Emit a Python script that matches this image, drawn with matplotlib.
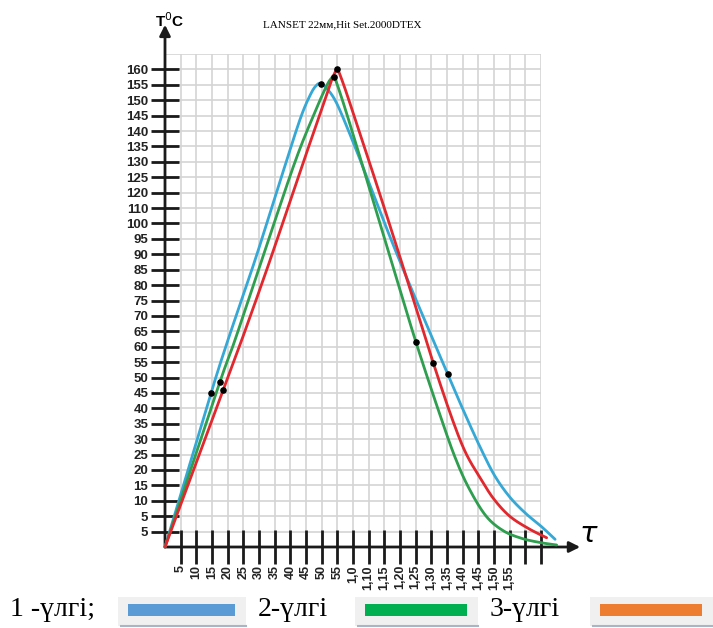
import numpy as np
import matplotlib.pyplot as plt
from matplotlib.patches import Rectangle

# tick labels (x: one per grid column, y: one per grid row, bottom up)
x_labels = ['5', '10', '15', '20', '25', '30', '35', '40', '45', '50', '55', '1,0',
            '1,10', '1,15', '1,20', '1,25', '1,30', '1,35', '1,40', '1,45', '1,50', '1,55', '', '']
y_labels = ['5', '5', '10', '15', '20', '25', '30', '35', '40', '45', '50', '55', '60', '65',
            '70', '75', '80', '85', '90', '95', '100', '110', '120', '125', '130', '135', '140',
            '145', '150', '155', '160']

# curves, in grid cells from the origin
blue_x = [0, 1.0, 2.94, 4.02, 5.74, 7.3, 8.6, 9.3, 9.7, 9.94, 10.3, 10.96, 12.0, 12.87, 14.87,
          18.04, 19.25, 20.2, 21.06, 22.0, 23.0, 24.0, 24.9]
blue_y = [0, 3.4, 10.0, 13.44, 18.6, 23.6, 27.7, 29.4, 30.0, 30.06, 29.8, 28.8, 26.3, 24.05, 18.85,
          11.23, 8.4, 6.3, 4.6, 3.25, 2.2, 1.35, 0.5]
green_x = [0, 1.0, 3.51, 4.47, 6.17, 8.3, 9.6, 10.3, 10.6, 10.78, 11.1, 12.0, 14.36, 16.02,
           17.66, 18.6, 19.46, 20.5, 21.6, 22.8, 24.0, 25.0]
green_y = [0, 3.05, 10.73, 13.44, 18.6, 25.0, 28.3, 29.9, 30.4, 30.5, 29.7, 26.8, 18.85, 13.29,
           8.25, 5.6, 3.7, 2.0, 1.05, 0.55, 0.28, 0.13]
red_x = [0, 1.0, 3.72, 4.9, 6.7, 8.6, 10.0, 10.6, 10.85, 11.0, 11.3, 12.0, 14.0, 16.0, 17.13,
         18.3, 19.2, 20.2, 21.0, 22.0, 23.2, 24.36]
red_y = [0, 2.75, 10.2, 13.44, 18.6, 24.3, 28.4, 30.2, 30.8, 31.0, 30.3, 28.2, 22.0, 15.6, 11.93,
         8.4, 6.1, 4.35, 3.1, 2.0, 1.2, 0.6]

# black dots on each curve
blue_dots_x = [2.94, 9.94, 18.04]
blue_dots_y = [10.0, 30.06, 11.23]
green_dots_x = [3.51, 10.78, 16.02]
green_dots_y = [10.73, 30.5, 13.29]
red_dots_x = [3.72, 11.0, 17.13]
red_dots_y = [10.2, 31.0, 11.93]

legend_names = ['1 -үлгі;', '2-үлгі', '3-үлгі']
legend_colors = ['#5b9bd5', '#00b050', '#ed7d31']


def smooth(xs, ys, n=16):
    # catmull-rom pass through the read points, only for drawing
    p = np.column_stack([xs, ys]).astype(float)
    p = np.vstack([p[0], p, p[-1]])
    out = []
    t = np.linspace(0, 1, n, endpoint=False)[:, None]
    for i in range(1, len(p) - 2):
        p0, p1, p2, p3 = p[i - 1], p[i], p[i + 1], p[i + 2]
        out.append(0.5 * (2 * p1 + (-p0 + p2) * t + (2 * p0 - 5 * p1 + 4 * p2 - p3) * t ** 2
                          + (-p0 + 3 * p1 - 3 * p2 + p3) * t ** 3))
    out.append(p[-2][None, :])
    out = np.vstack(out)
    return out[:, 0], out[:, 1]


W, H = 713, 628
fig = plt.figure(figsize=(W / 100, H / 100), dpi=100)
ax = fig.add_axes([165 / W, 81 / H, 376 / W, 493 / H])
ax.set_xlim(0, 24)
ax.set_ylim(0, 32)
for s in ax.spines.values():
    s.set_visible(False)

ax.hlines(range(1, 33), 0, 24, color='#d4d4d4', lw=1.2, zorder=0)
ax.vlines(range(1, 25), 0, 32, color='#d4d4d4', lw=1.2, zorder=0)

ax.set_xticks(range(1, 25), x_labels)
ax.set_yticks(range(1, 32), y_labels)
ax.tick_params(direction='inout', width=2, color='#1a1a1a', labelcolor='#222222')
ax.tick_params(axis='x', length=24, pad=1, labelrotation=90, labelsize=9)
ax.tick_params(axis='y', length=20, pad=2, labelsize=9.5)
for lbl in ax.get_xticklabels() + ax.get_yticklabels():
    lbl.set_fontweight('bold')
    lbl.set_family('Liberation Sans')

arrow = dict(arrowstyle='-|>', lw=2, color='#1a1a1a', mutation_scale=16, shrinkA=0, shrinkB=0)
ax.annotate('', xy=(26.5, 0), xytext=(0, 0), arrowprops=arrow, annotation_clip=False)
ax.annotate('', xy=(0, 33.9), xytext=(0, 0), arrowprops=arrow, annotation_clip=False)

for cx, cy, col in [(blue_x, blue_y, '#35a8d6'), (green_x, green_y, '#2e9e4f'),
                    (red_x, red_y, '#e0282e')]:
    sx, sy = smooth(cx, cy)
    ax.plot(sx, sy, color=col, lw=2, clip_on=False, zorder=3, solid_capstyle='round')
for dx, dy in [(blue_dots_x, blue_dots_y), (green_dots_x, green_dots_y), (red_dots_x, red_dots_y)]:
    ax.scatter(dx, dy, s=14, color='black', zorder=4, clip_on=False)

fig.text(170 / W, 1 - 21 / H, 'T$^0$C', fontsize=11, fontweight='bold', ha='center', va='center',
         family='Liberation Sans')
fig.text(588 / W, 1 - 534 / H, 'τ', fontsize=21, ha='center', va='center', style='italic')
fig.text(342 / W, 1 - 25 / H, 'LANSET 22мм,Hit Set.2000DTEX', fontsize=8, ha='center', va='center',
         family=['Liberation Serif', 'DejaVu Serif'])

# legend row at the bottom
text_x = [10, 258, 490]
box_x = [(118, 246), (355, 478), (590, 713)]
for name, col, tx, (b0, b1) in zip(legend_names, legend_colors, text_x, box_x):
    fig.text(tx / W, 1 - 610 / H, name, fontsize=20, ha='left', va='center',
             family=['Liberation Serif', 'DejaVu Serif'])
    fig.patches.append(Rectangle((b0 / W, 1 - 626 / H), (b1 - b0) / W, 29 / H,
                                 transform=fig.transFigure, facecolor='#f0f0f0',
                                 edgecolor='none'))
    fig.add_artist(plt.Line2D([b0 / W + 0.004, b1 / W], [1 - 626 / H] * 2, color='#a9b4c4',
                              lw=1.5, transform=fig.transFigure))
    fig.patches.append(Rectangle(((b0 + 10) / W, 1 - 616 / H), (b1 - b0 - 21) / W, 12 / H,
                                 transform=fig.transFigure, facecolor=col, edgecolor='none'))

fig.savefig('out.png', dpi=100)
